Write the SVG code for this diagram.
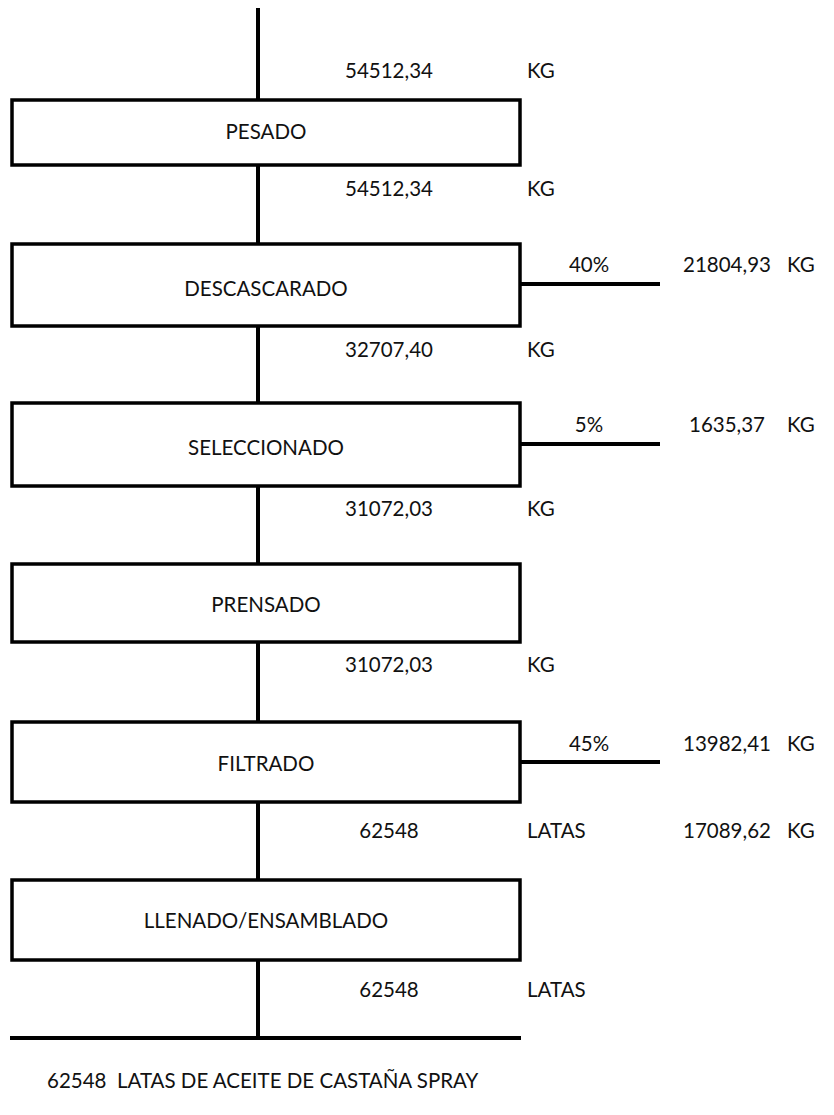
<svg xmlns="http://www.w3.org/2000/svg" width="834" height="1115" viewBox="0 0 834 1115">
<style>
  text { font-family: Lato, "Liberation Sans", sans-serif; font-size: 20.5px; fill: #111; }
  .box { fill: #fff; stroke: #000; stroke-width: 3.5; }
  .line { stroke: #000; stroke-width: 4; fill: none; }
  .c { text-anchor: middle; }
</style>
<rect width="834" height="1115" fill="#fff"/>
<g id="connectors">
  <line class="line" x1="258" y1="8" x2="258" y2="100"/>
  <line class="line" x1="258" y1="165" x2="258" y2="244"/>
  <line class="line" x1="258" y1="326" x2="258" y2="403"/>
  <line class="line" x1="258" y1="486" x2="258" y2="564"/>
  <line class="line" x1="258" y1="642" x2="258" y2="722"/>
  <line class="line" x1="258" y1="802" x2="258" y2="880"/>
  <line class="line" x1="258" y1="960" x2="258" y2="1038"/>
  <line class="line" x1="10" y1="1038" x2="521" y2="1038"/>
  <line class="line" x1="520" y1="284" x2="660" y2="284"/>
  <line class="line" x1="520" y1="444" x2="660" y2="444"/>
  <line class="line" x1="520" y1="762" x2="660" y2="762"/>
</g>
<g id="pesado">
  <rect class="box" x="12" y="100" width="508" height="65"/>
  <text class="c" x="266" y="139">PESADO</text>
</g>
<g id="descascarado">
  <rect class="box" x="12" y="244" width="508" height="82"/>
  <text class="c" x="266" y="296">DESCASCARADO</text>
</g>
<g id="seleccionado">
  <rect class="box" x="12" y="403" width="508" height="83"/>
  <text class="c" x="266" y="455">SELECCIONADO</text>
</g>
<g id="prensado">
  <rect class="box" x="12" y="564" width="508" height="78"/>
  <text class="c" x="266" y="612">PRENSADO</text>
</g>
<g id="filtrado">
  <rect class="box" x="12" y="722" width="508" height="80"/>
  <text class="c" x="266" y="771">FILTRADO</text>
</g>
<g id="llenado">
  <rect class="box" x="12" y="880" width="508" height="80"/>
  <text class="c" x="266" y="928">LLENADO/ENSAMBLADO</text>
</g>
<g id="labels">
  <text class="c" x="389" y="78">54512,34</text><text x="527" y="78">KG</text>
  <text class="c" x="389" y="196">54512,34</text><text x="527" y="196">KG</text>
  <text class="c" x="589" y="272">40%</text><text class="c" x="727" y="272">21804,93</text><text x="787" y="272">KG</text>
  <text class="c" x="389" y="357">32707,40</text><text x="527" y="357">KG</text>
  <text class="c" x="589" y="432">5%</text><text class="c" x="727" y="432">1635,37</text><text x="787" y="432">KG</text>
  <text class="c" x="389" y="516">31072,03</text><text x="527" y="516">KG</text>
  <text class="c" x="389" y="672">31072,03</text><text x="527" y="672">KG</text>
  <text class="c" x="589" y="751">45%</text><text class="c" x="727" y="751">13982,41</text><text x="787" y="751">KG</text>
  <text class="c" x="389" y="838">62548</text><text x="527" y="838">LATAS</text><text class="c" x="727" y="838">17089,62</text><text x="787" y="838">KG</text>
  <text class="c" x="389" y="997">62548</text><text x="527" y="997">LATAS</text>
  <text x="47" y="1088" xml:space="preserve">62548  LATAS DE ACEITE DE CASTAÑA SPRAY</text>
</g>
</svg>
